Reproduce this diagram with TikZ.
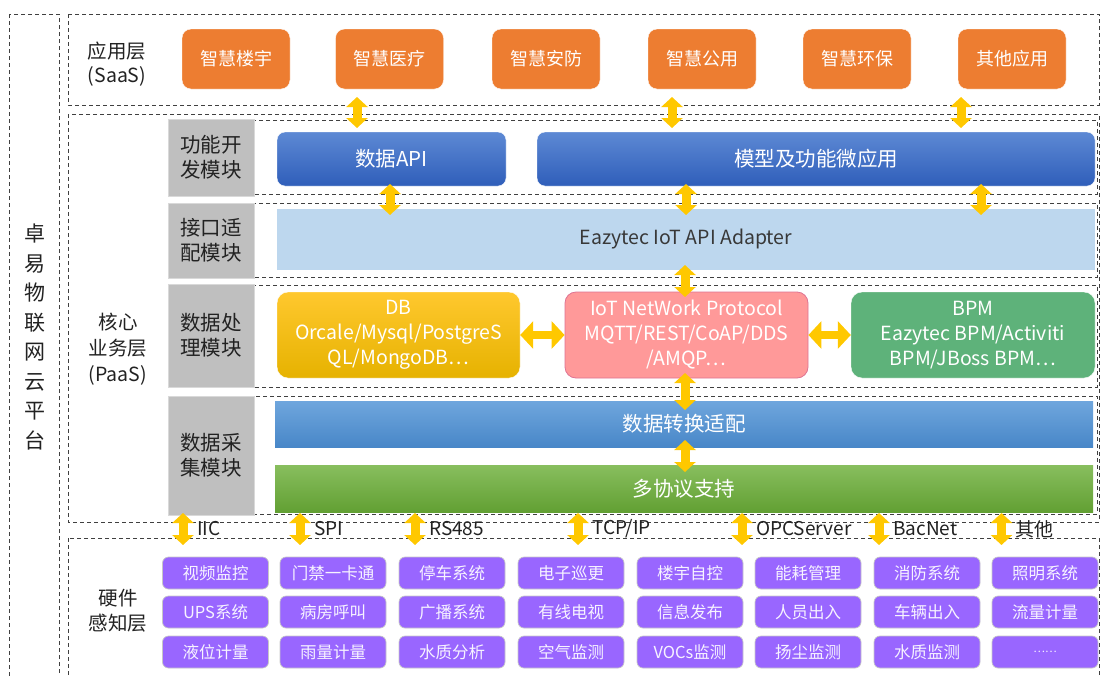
\documentclass[tikz,border=0pt]{standalone}
\usepackage{fontspec}
\setmainfont{Noto Sans CJK SC}
\usetikzlibrary{arrows.meta,calc}
\newcommand\fsz[2]{\fontsize{#1}{#2}\selectfont}
\definecolor{cOrange}{RGB}{237,125,49}
\definecolor{cBlueT}{RGB}{93,137,212}
\definecolor{cBlueB}{RGB}{47,94,186}
\definecolor{cLBlue}{RGB}{189,215,238}
\definecolor{cYelT}{RGB}{255,200,46}
\definecolor{cYelB}{RGB}{230,178,0}
\definecolor{cPink}{RGB}{255,153,153}
\definecolor{cGreen}{RGB}{94,178,122}
\definecolor{cBarT}{RGB}{111,166,221}
\definecolor{cBarB}{RGB}{72,135,200}
\definecolor{cGBarT}{RGB}{136,190,94}
\definecolor{cGBarB}{RGB}{98,160,51}
\definecolor{cPurple}{RGB}{153,102,255}
\definecolor{cGray}{RGB}{191,191,191}
\definecolor{cArrow}{RGB}{255,200,0}
\definecolor{cText}{RGB}{34,34,34}
\begin{document}
\begin{tikzpicture}[x=1pt,y=-1pt,
  frame/.style={draw=black!75,line width=0.9pt,dash pattern=on 4pt off 3pt},
  boxbase/.style={inner sep=0pt,align=center},
  appbox/.style={boxbase,rounded corners=9pt,fill=cOrange,draw=white,text=white,font=\fsz{18}{22},minimum width=108pt,minimum height=60pt},
  funcbox/.style={boxbase,rounded corners=8pt,top color=cBlueT,bottom color=cBlueB,draw=white,text=white,font=\fsz{20.5}{24},minimum height=54pt},
  modbox/.style={boxbase,fill=cGray,draw=white!85!black,line width=0.6pt,text=cText,font=\fsz{20.5}{25},minimum width=86pt},
  procbox/.style={boxbase,rounded corners=11pt,text=white,font=\fsz{19.5}{25},minimum width=243pt,minimum height=86pt},
  hwbox/.style={boxbase,rounded corners=6pt,fill=cPurple,draw=black!22,line width=0.7pt,text=white!92!cPurple,font=\fsz{16.5}{18},minimum width=106pt,minimum height=32pt},
  layerlabel/.style={boxbase,text=cText,font=\fsz{19.5}{24}},
  protolabel/.style={inner sep=0pt,anchor=west,text=cText,font=\fsz{19}{20}},
  dblv/.style={draw=cArrow,line width=9pt,{Triangle[width=21pt,length=10pt]}-{Triangle[width=21pt,length=10pt]}},
  dblh/.style={draw=cArrow,line width=8pt,{Triangle[width=27pt,length=13pt]}-{Triangle[width=27pt,length=13pt]}}
]
\clip (0,0) rectangle (1103,675);
\fill[white] (0,0) rectangle (1103,675);

% frames
\draw[frame] (9,14) rectangle (59,700);
\draw[frame] (68,14) rectangle (1099,105);
\draw[frame] (68,114) rectangle (1099,522);
\draw[frame] (68,538) rectangle (1099,700);
% module rows
\draw[frame] (168,120) rectangle (1097,194);
\draw[frame] (168,203) rectangle (1097,277);
\draw[frame] (168,285) rectangle (1097,387);
\draw[frame] (168,396) rectangle (1097,514);

% labels
\node[boxbase,text=cText,font=\fsz{21}{29.5}] (plat) at (35,337) {卓\\易\\物\\联\\网\\云\\平\\台};
\node[layerlabel] (saas) at (117,64) {应用层\\(SaaS)};
\node[layerlabel,font=\fsz{19.5}{26}] (paas) at (118,349) {核心\\业务层\\(PaaS)};
\node[layerlabel,font=\fsz{19.5}{25}] (hw) at (118,611) {硬件\\感知层};

% application boxes
\node[appbox] (a1) at (236,59) {智慧楼宇};
\node[appbox] (a2) at (389.5,59) {智慧医疗};
\node[appbox] (a3) at (546,59) {智慧安防};
\node[appbox] (a4) at (702,59) {智慧公用};
\node[appbox] (a5) at (857,59) {智慧环保};
\node[appbox] (a6) at (1012,59) {其他应用};

% module gray boxes
\node[modbox,minimum height=77pt] (m1) at (211,157.5) {功能开\\发模块};
\node[modbox,minimum height=75pt] (m2) at (211,240.5) {接口适\\配模块};
\node[modbox,minimum height=103pt] (m3) at (211,335.5) {数据处\\理模块};
\node[modbox,minimum height=119pt] (m4) at (211,455.5) {数据采\\集模块};

% function boxes
\node[funcbox,minimum width=229pt] (api) at (391.5,159) {数据API};
\node[funcbox,minimum width=558pt] (micro) at (816,159) {模型及功能微应用};
\node[boxbase,fill=cLBlue,text=cText!90,font=\fsz{19.5}{22},minimum width=818pt,minimum height=61pt] (adapt) at (686,239.5) {Eazytec IoT API Adapter};

% processing boxes
\node[procbox,top color=cYelT,bottom color=cYelB,draw=white] (db) at (398.5,335) {DB\\Orcale/Mysql/PostgreS\\QL/MongoDB⋯};
\node[procbox,fill=cPink,draw=violet!25!cPink,line width=0.8pt] (iot) at (686.5,335) {IoT NetWork Protocol\\MQTT/REST/CoAP/DDS\\/AMQP⋯};
\node[procbox,fill=cGreen,draw=white,minimum width=244pt] (bpm) at (973,335) {BPM\\Eazytec BPM/Activiti\\BPM/JBoss BPM⋯};

% bars
\node[boxbase,top color=cBarT,bottom color=cBarB,minimum width=818pt,minimum height=46pt] (conv) at (684,424) {};
\node[text=white,font=\fsz{20.5}{24},inner sep=0pt] (convt) at (684,424) {数据转换适配};
\node[boxbase,top color=cGBarT,bottom color=cGBarB,minimum width=818pt,minimum height=47pt] (multi) at (684,488.5) {};
\node[text=white,font=\fsz{20.5}{24},inner sep=0pt] (multit) at (684,489) {多协议支持};

% hardware boxes
\node[hwbox] (h11) at (215.5,573) {视频监控};
\node[hwbox] (h12) at (215.5,612) {UPS系统};
\node[hwbox] (h13) at (215.5,652) {液位计量};
\node[hwbox] (h21) at (333,573) {门禁一卡通};
\node[hwbox] (h22) at (333,612) {病房呼叫};
\node[hwbox] (h23) at (333,652) {雨量计量};
\node[hwbox] (h31) at (452,573) {停车系统};
\node[hwbox] (h32) at (452,612) {广播系统};
\node[hwbox] (h33) at (452,652) {水质分析};
\node[hwbox] (h41) at (571,573) {电子巡更};
\node[hwbox] (h42) at (571,612) {有线电视};
\node[hwbox] (h43) at (571,652) {空气监测};
\node[hwbox] (h51) at (690,573) {楼宇自控};
\node[hwbox] (h52) at (690,612) {信息发布};
\node[hwbox] (h53) at (690,652) {VOCs监测};
\node[hwbox] (h61) at (808,573) {能耗管理};
\node[hwbox] (h62) at (808,612) {人员出入};
\node[hwbox] (h63) at (808,652) {扬尘监测};
\node[hwbox] (h71) at (927,573) {消防系统};
\node[hwbox] (h72) at (927,612) {车辆出入};
\node[hwbox] (h73) at (927,652) {水质监测};
\node[hwbox] (h81) at (1045,573) {照明系统};
\node[hwbox] (h82) at (1045,612) {流量计量};
\node[hwbox,font=\fsz{11}{14}] (h83) at (1045,652) {……};

% arrows SaaS -> PaaS
\coordinate (s1t) at (357,97);  \coordinate (s1b) at (357,128);
\coordinate (s2t) at (672,97);  \coordinate (s2b) at (672,128);
\coordinate (s3t) at (961,97);  \coordinate (s3b) at (961,128);
\draw[dblv] (s1t) -- (s1b);
\draw[dblv] (s2t) -- (s2b);
\draw[dblv] (s3t) -- (s3b);
% arrows func -> adapter
\coordinate (f1t) at (390,184);  \coordinate (f1b) at (390,215);
\coordinate (f2t) at (686,184);  \coordinate (f2b) at (686,215);
\coordinate (f3t) at (981,184);  \coordinate (f3b) at (981,215);
\draw[dblv] (f1t) -- (f1b);
\draw[dblv] (f2t) -- (f2b);
\draw[dblv] (f3t) -- (f3b);
% adapter -> iot -> conv -> multi
\coordinate (c1t) at (685,265); \coordinate (c1b) at (685,297);
\coordinate (c2t) at (685,373); \coordinate (c2b) at (685,410);
\coordinate (c3t) at (685,440); \coordinate (c3b) at (685,472);
\draw[dblv] (c1t) -- (c1b);
\draw[dblv] (c2t) -- (c2b);
\draw[dblv] (c3t) -- (c3b);
% horizontal
\draw[dblh] (db.east) -- (iot.west);
\draw[dblh] (iot.east) -- (bpm.west);

% hardware protocol arrows
\foreach \i/\x/\lab in {1/183/IIC,2/300/SPI,3/415/RS485,4/578/{TCP/IP},5/742/OPCServer,6/879/BacNet,7/1001.5/其他}{
  \coordinate (pt\i) at (\x,513);
  \coordinate (pb\i) at (\x,545);
  \draw[dblv] (pt\i) -- (pb\i);
  \node[protolabel] (pl\i) at (\x+14,529) {\lab};
}
\end{tikzpicture}
\end{document}
